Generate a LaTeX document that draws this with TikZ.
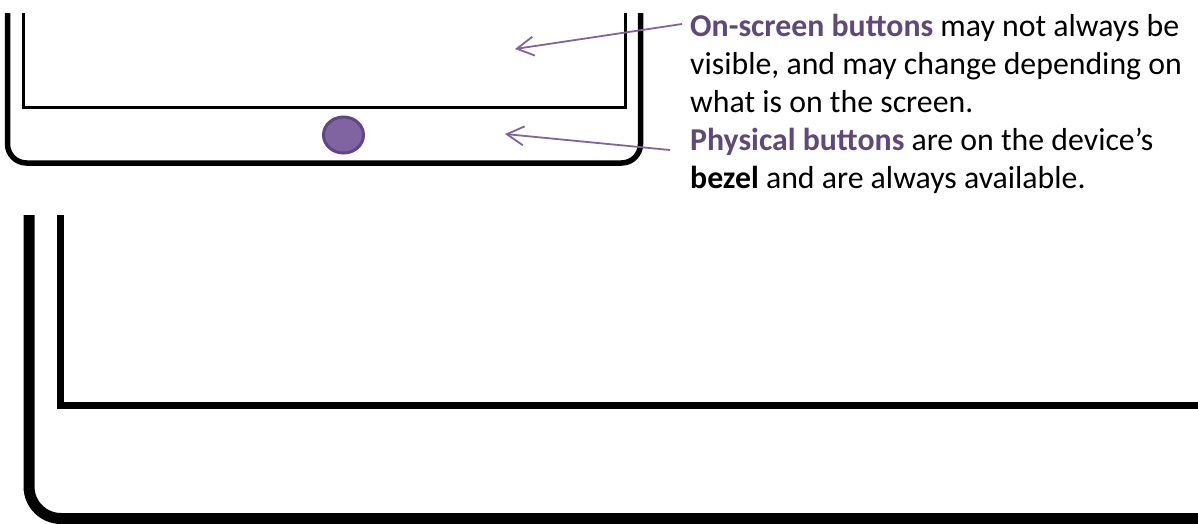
\documentclass[tikz,border=0pt]{standalone}
\usepackage{fontspec}
\setmainfont{Carlito}
\usetikzlibrary{arrows.meta,shapes.geometric}
\definecolor{purpletext}{HTML}{5F497A}
\definecolor{purpleline}{HTML}{8064A2}
\definecolor{purpledark}{HTML}{5F4787}
\tikzset{
  devline/.style={line width=#1, draw=black, line join=round},
  callout/.style={draw=purpleline, line width=1.8pt, -{Straight Barb[length=17pt,width=19pt]}},
  txt/.style={anchor=base west, inner sep=0pt, font=\fontsize{31.8}{38}\selectfont},
  hl/.style={text=purpletext}
}
\begin{document}
\begin{tikzpicture}[x=1pt,y=-1pt]
\useasboundingbox (0,0) rectangle (1198,523);
\fill[white] (0,0) rectangle (1198,523);
\clip (0,0) rectangle (1198,523);
% top device
\draw[devline=5.5pt, rounded corners=19pt] (7.5,13) -- (7.5,163) -- (640.5,163) -- (640.5,13);
\draw[devline=3pt, line join=miter] (23.5,13) -- (23.5,107) -- (625,107) -- (625,13);
\node[draw=purpledark, fill=purpleline, line width=3pt, ellipse, minimum width=40pt, minimum height=36pt, inner sep=0pt] (btn) at (343.5,135) {};
% bottom device (enlarged)
\draw[devline=11pt, rounded corners=32pt] (29,215) -- (29,518.5) -- (1210,518.5);
\draw[devline=7pt, line join=miter] (60.5,215) -- (60.5,405.5) -- (1210,405.5);
% texts
\node[txt] (l1) at (690,36) {\textbf{\textcolor{purpletext}{On-screen buttons}} may not always be};
\node[txt] (l2) at (690,74) {visible, and may change depending on};
\node[txt] (l3) at (690,112) {what is on the screen.};
\node[txt] (l4) at (690,150) {\textbf{\textcolor{purpletext}{Physical buttons}} are on the device’s};
\node[txt] (l5) at (690,188) {\textbf{bezel} and are always available.};
% callouts
\coordinate (s1) at (682,24);
\coordinate (e1) at (515,49);
\coordinate (s2) at (670,150);
\coordinate (e2) at (505,134);
\draw[callout] (s1) -- (e1);
\draw[callout] (s2) -- (e2);
\end{tikzpicture}
\end{document}
